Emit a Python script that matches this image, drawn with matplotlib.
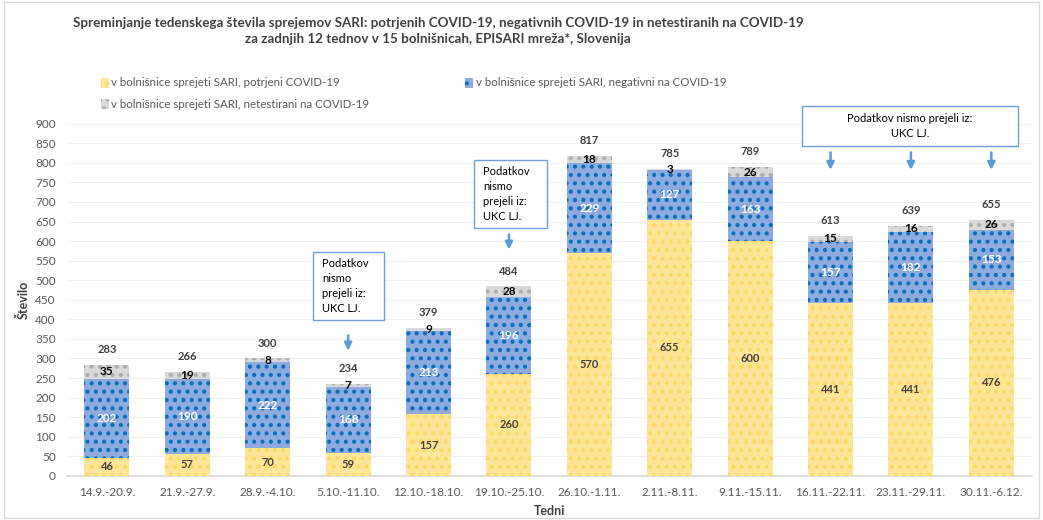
import matplotlib.pyplot as plt
import matplotlib as mpl
from matplotlib.patches import Rectangle

plt.rcParams['font.family'] = ['Lato', 'DejaVu Sans']
mpl.rcParams['hatch.linewidth'] = 1.8

weeks = ['14.9.-20.9.', '21.9.-27.9.', '28.9.-4.10.', '5.10.-11.10.', '12.10.-18.10.',
         '19.10.-25.10.', '26.10.-1.11.', '2.11.-8.11.', '9.11.-15.11.', '16.11.-22.11.',
         '23.11.-29.11.', '30.11.-6.12.']
confirmed = [46, 57, 70, 59, 157, 260, 570, 655, 600, 441, 441, 476]
negative = [202, 190, 222, 168, 213, 196, 229, 127, 163, 157, 182, 153]
untested = [35, 19, 8, 7, 9, 28, 18, 3, 26, 15, 16, 26]
totals = [c + n + u for c, n, u in zip(confirmed, negative, untested)]

lab_conf = 'v bolnišnice sprejeti SARI, potrjeni COVID-19'
lab_neg = 'v bolnišnice sprejeti SARI, negativni na COVID-19'
lab_unt = 'v bolnišnice sprejeti SARI, netestirani na COVID-19'
note = 'Podatkov\nnismo\nprejeli iz:\nUKC LJ.'
note_wide = 'Podatkov nismo prejeli iz:\nUKC LJ.'

fig = plt.figure(figsize=(10.43, 5.2), dpi=100)
ax = fig.add_axes([0.064, 0.085, 0.925, 0.677])

x = list(range(len(weeks)))
w = 0.56
bottom2 = [c + n for c, n in zip(confirmed, negative)]

ax.bar(x, confirmed, w, color='#FFE699', edgecolor='#FFD966', hatch='..', linewidth=0, zorder=3)
ax.bar(x, negative, w, bottom=confirmed, color='#8FAADC', edgecolor='#0070C0', hatch='..', linewidth=0, zorder=3)
ax.bar(x, untested, w, bottom=bottom2, color='#D9D9D9', edgecolor='#ADADAD', hatch='..', linewidth=0, zorder=3)

for i in x:
    ax.text(i, confirmed[i] / 2, str(confirmed[i]), ha='center', va='center',
            fontsize=8, fontweight='bold', color='#404040', zorder=4)
    ax.text(i, confirmed[i] + negative[i] / 2, str(negative[i]), ha='center', va='center',
            fontsize=8.5, fontweight='bold', color='white', zorder=4)
    ax.text(i, bottom2[i] + untested[i] / 2, str(untested[i]), ha='center', va='center',
            fontsize=8.5, fontweight='bold', color='black', zorder=4)
    ax.annotate(str(totals[i]), (i, totals[i]), xytext=(0, 11), textcoords='offset points',
                ha='center', va='center', fontsize=8, fontweight='bold', color='#404040')

ax.set_xlim(-0.5, len(weeks) - 0.5)
ax.set_ylim(0, 900)
ax.set_yticks(range(0, 901, 50))
ax.set_xticks(x)
ax.set_xticklabels(weeks)
ax.tick_params(axis='both', length=0, labelsize=8.5, colors='#595959', pad=8)
ax.grid(axis='y', color='#F0F0F0', linewidth=0.8, zorder=0)
for s in ['top', 'right', 'left']:
    ax.spines[s].set_visible(False)
ax.spines['bottom'].set_color('#D9D9D9')
ax.spines['bottom'].set_linewidth(1.2)
ax.set_ylabel('Število', fontsize=9, fontweight='bold', color='#404040', labelpad=4)
ax.set_xlabel('Tedni', fontsize=9, fontweight='bold', color='#404040', labelpad=5)

# note boxes (figure fractions)
def note_box(x0, y0, bw, bh):
    fig.patches.append(Rectangle((x0, y0), bw, bh, transform=fig.transFigure,
                                 facecolor='white', edgecolor='#6E9FD8', linewidth=1, zorder=5))

note_box(0.300, 0.385, 0.068, 0.131)
fig.text(0.309, 0.45, note, ha='left', va='center', fontsize=8, linespacing=1.45, zorder=6)
note_box(0.4545, 0.5615, 0.070, 0.131)
fig.text(0.463, 0.627, note, ha='left', va='center', fontsize=8, linespacing=1.45, zorder=6)
note_box(0.769, 0.719, 0.207, 0.077)
fig.text(0.8725, 0.757, note_wide, ha='center', va='center', fontsize=8, linespacing=1.45, zorder=6)

arrow = dict(arrowstyle='-|>', color='#5B9BD5', linewidth=1.8, mutation_scale=11)
for xi, y0, y1 in [(3, 366, 313), (5, 624, 571), (9, 834, 775), (10, 834, 775), (11, 834, 775)]:
    ax.annotate('', xy=(xi, y1), xytext=(xi, y0), arrowprops=arrow, annotation_clip=False)

# legend
sw = dict(hatch='..', linewidth=0)
fig.patches.append(Rectangle((0.0968, 0.831), 0.0077, 0.019, transform=fig.transFigure,
                             facecolor='#FFE699', edgecolor='#FFD966', **sw))
fig.text(0.1064, 0.841, lab_conf, fontsize=8.3, color='#595959', va='center')
fig.patches.append(Rectangle((0.4458, 0.831), 0.0077, 0.019, transform=fig.transFigure,
                             facecolor='#8FAADC', edgecolor='#0070C0', **sw))
fig.text(0.4564, 0.841, lab_neg, fontsize=8.3, color='#595959', va='center')
fig.patches.append(Rectangle((0.0968, 0.790), 0.0077, 0.019, transform=fig.transFigure,
                             facecolor='#D9D9D9', edgecolor='#ADADAD', **sw))
fig.text(0.1064, 0.800, lab_unt, fontsize=8.3, color='#595959', va='center')

fig.text(0.42, 0.94, 'Spreminjanje tedenskega števila sprejemov SARI: potrjenih COVID-19, '
         'negativnih COVID-19 in netestiranih na COVID-19\n'
         'za zadnjih 12 tednov v 15 bolnišnicah, EPISARI mreža*, Slovenija',
         ha='center', va='center', fontsize=9.6, fontweight='bold', color='#404040', linespacing=1.4)

fig.patches.append(Rectangle((0.004, 0.004), 0.992, 0.992, transform=fig.transFigure,
                             facecolor='none', edgecolor='#D9D9D9', linewidth=1))

fig.savefig('out.png', dpi=100)
